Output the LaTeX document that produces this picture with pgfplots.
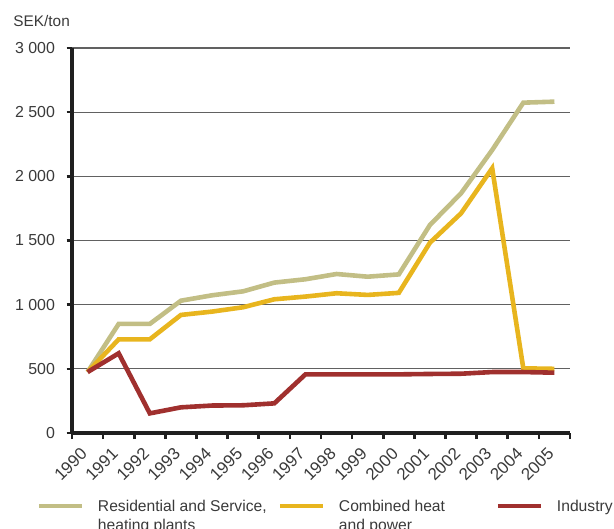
\documentclass[border=0pt]{standalone}
\usepackage{fontspec}
\setmainfont{Liberation Sans}
\usepackage{pgfplots}
\pgfplotsset{compat=1.18}
\definecolor{resid}{HTML}{C2BE85}
\definecolor{chp}{HTML}{E8B51E}
\definecolor{ind}{HTML}{A0302E}
\definecolor{txt}{HTML}{3A3A3A}
\begin{document}
\begin{tikzpicture}
\useasboundingbox (0bp,0bp) rectangle (614bp,-529bp);
\clip (0bp,0bp) rectangle (614bp,-529bp);
\begin{axis}[
  at={(72bp,-433bp)}, anchor=south west,
  scale only axis, width=498bp, height=385bp,
  xmin=-0.5, xmax=15.5, ymin=0, ymax=3000,
  axis x line*=bottom, axis y line*=left,
  axis line style={line width=3.2bp, black!88},
  tick align=outside,
  major tick length=5.5bp, minor tick length=6bp,
  xtick={0,...,15},
  xticklabels={1990,1991,1992,1993,1994,1995,1996,1997,1998,1999,2000,2001,2002,2003,2004,2005},
  minor xtick={-0.5,0.5,...,15.5},
  major x tick style={draw=none},
  minor x tick style={line width=2.6bp, black!88},
  ytick={0,500,1000,1500,2000,2500,3000},
  yticklabels={0,500,1 000,1 500,2 000,2 500,3 000},
  major y tick style={line width=2.6bp, black!88},
  ymajorgrids,
  grid style={line width=1.1bp, black!62},
  x tick label style={xshift=-8bp, yshift=-6.5bp, rotate=45, anchor=north east, font=\fontsize{17}{19}\selectfont, text=txt, inner sep=1bp},
  y tick label style={font=\fontsize{16}{18}\selectfont, text=txt, xshift=-8bp},
  ylabel={SEK/ton},
  ylabel style={rotate=-90, at={(rel axis cs:0,1)}, anchor=base west, inner sep=0pt,
    xshift=-58.7bp, yshift=21.3bp, font=\fontsize{15.4}{17}\selectfont, text=txt},
  legend columns=3,
  legend style={at={(rel axis cs:-0.0703,-0.1748)}, anchor=north west, draw=none,
    inner sep=0pt, outer sep=0pt, fill=none,
    nodes={inner sep=0pt, outer sep=0pt},
    cells={anchor=base west},
    font=\fontsize{15.7}{19}\selectfont, text=txt,
    /tikz/every odd column/.append style={column sep=14bp},
    /tikz/every even column/.append style={column sep=0bp}},
  legend image code/.code={\draw[#1, line width=4bp] (0bp,5.2bp) -- (43bp,5.2bp);},
  every axis plot/.append style={line width=4.6bp, line join=miter, line cap=butt},
]
\addplot[resid] coordinates {(0,475) (1,850) (2,850) (3,1031) (4,1073) (5,1104) (6,1172) (7,1198) (8,1239) (9,1218) (10,1236) (11,1621) (12,1868) (13,2205) (14,2574) (15,2582)};
\addlegendentry{\parbox[t]{180bp}{Residential and Service,\\heating plants}}
\addplot[chp] coordinates {(0,475) (1,730) (2,730) (3,920) (4,946) (5,980) (6,1042) (7,1063) (8,1089) (9,1076) (10,1092) (11,1483) (12,1712) (13,2063) (14,504) (15,500)};
\addlegendentry{\parbox[t]{157bp}{Combined heat\\and power}}
\addplot[ind] coordinates {(0,475) (1,621) (2,153) (3,200) (4,214) (5,216) (6,231) (7,457) (8,457) (9,457) (10,457) (11,460) (12,462) (13,475) (14,475) (15,470)};
\addlegendentry{Industry}
\end{axis}
\end{tikzpicture}
\end{document}
